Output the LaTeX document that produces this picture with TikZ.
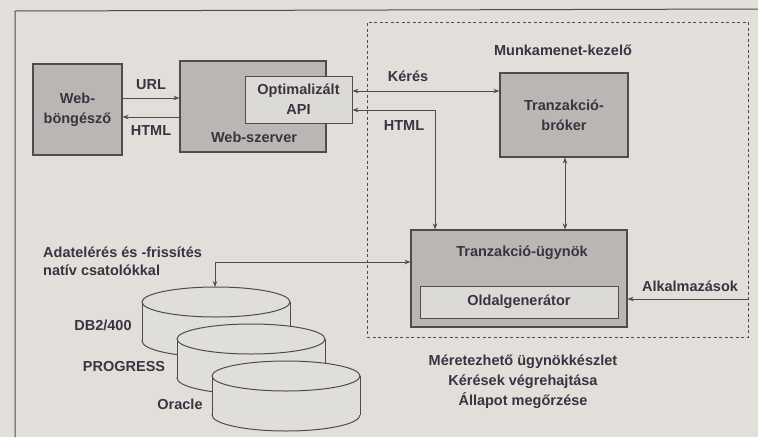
\documentclass[tikz,border=0pt]{standalone}
\usepackage{fontspec}
\setmainfont{Liberation Sans}
\usetikzlibrary{arrows.meta}
\definecolor{bg}{HTML}{E2DFDB}
\definecolor{boxd}{HTML}{B9B6B3}
\definecolor{boxl}{HTML}{DCDAD7}
\definecolor{cylf}{HTML}{E0DEDB}
\definecolor{ink}{HTML}{3A3340}
\definecolor{ln}{HTML}{4F4C4A}
\begin{document}
\begin{tikzpicture}[x=1pt,y=-1pt,
  font=\fontsize{14.5}{20}\selectfont\bfseries,
  every node/.style={text=ink},
  dbox/.style={draw=ln,line width=1.1pt,fill=boxd,inner sep=0pt,align=center},
  lbox/.style={draw=ln,line width=1pt,fill=boxl,inner sep=0pt,align=center},
  lbl/.style={inner sep=1pt,align=center},
  arr/.style={draw=ln,line width=1pt,-{Stealth[length=6pt,width=4.5pt]}},
  arrtwo/.style={draw=ln,line width=1pt,{Stealth[length=6pt,width=4.5pt]}-{Stealth[length=6pt,width=4.5pt]}},
  cyl/.style={draw=ln,line width=1pt,fill=cylf}]
\useasboundingbox (0,0) rectangle (758,437);
\fill[bg] (0,0) rectangle (758,437);
% outer frame
\draw[ln,line width=1pt] (15,437) -- (15,11) -- (758,9);
% session manager dashed area
\node[draw=ln,line width=0.9pt,dash pattern=on 3pt off 2.5pt,minimum width=381pt,minimum height=315pt,inner sep=0pt] (sess) at (557.5,179.5) {};
\node[lbl] (sesslbl) at (563,50) {Munkamenet-kezelő};
% web browser
\node[dbox,minimum width=89pt,minimum height=91pt] (web) at (77.5,109.5) {Web-\\böngésző};
% web server
\node[dbox,minimum width=146pt,minimum height=91pt] (srv) at (253,106.5) {};
\node[lbl] (srvlbl) at (254,137) {Web-szerver};
\node[lbox,minimum width=107pt,minimum height=47pt] (api) at (298.5,99.5) {Optimalizált\\API};
% broker
\node[dbox,minimum width=128pt,minimum height=84pt] (brk) at (564,115) {Tranzakció-\\bróker};
% agent
\node[dbox,minimum width=216pt,minimum height=97pt] (agt) at (519,278.5) {};
\node[lbl] (agtlbl) at (522,253) {Tranzakció-ügynök};
\node[lbox,minimum width=198pt,minimum height=32pt] (gen) at (519,302) {Oldalgenerátor};
% arrows
\draw[arr] (web.east |- 0,98) -- (srv.west |- 0,98);
\node[lbl] (urllbl) at (151,85) {URL};
\draw[arr] (srv.west |- 0,117) -- (web.east |- 0,117);
\node[lbl] (htmllbl) at (151,131) {HTML};
\draw[arrtwo] (api.east |- 0,91) -- (brk.west |- 0,91);
\node[lbl] (kereslbl) at (408,76) {Kérés};
\draw[arrtwo] (api.east |- 0,110) -- (435,110) -- (agt.north -| 435,0);
\node[lbl] (html2lbl) at (404,126) {HTML};
\draw[arrtwo] (brk.south -| 565,0) -- (agt.north -| 565,0);
\coordinate (appin) at (748,299);
\draw[arr] (appin) -- (agt.east |- 0,299);
\node[lbl] (applbl) at (690,286) {Alkalmazások};
% databases
\foreach \cx/\ct in {216/302, 251/339, 286/376}{
  \pgfmathsetmacro\cb{\ct+39}
  \filldraw[cyl] (\cx,\cb) ellipse [x radius=74, y radius=16];
  \fill[cylf] (\cx-74,\ct) rectangle (\cx+74,\cb);
  \draw[ln,line width=1pt] (\cx-74,\ct) -- (\cx-74,\cb) (\cx+74,\ct) -- (\cx+74,\cb);
  \filldraw[cyl] (\cx,\ct) ellipse [x radius=74, y radius=15];
}
\coordinate (dbtop) at (215,287);
\draw[arrtwo] (agt.west |- 0,262) -- (215,262) -- (dbtop);
\node[lbl,align=left,anchor=west,font=\fontsize{14.5}{18.5}\selectfont\bfseries] (dblbl) at (42,261) {Adatelérés és -frissítés\\natív csatolókkal};
\node[lbl] (db2) at (103,325) {DB2/400};
\node[lbl] (prog) at (124,367) {PROGRESS};
\node[lbl] (orac) at (180,404) {Oracle};
% bottom text
\node[lbl] (notes) at (523,382) {Méretezhető ügynökkészlet\\Kérések végrehajtása\\Állapot megőrzése};
\end{tikzpicture}
\end{document}
